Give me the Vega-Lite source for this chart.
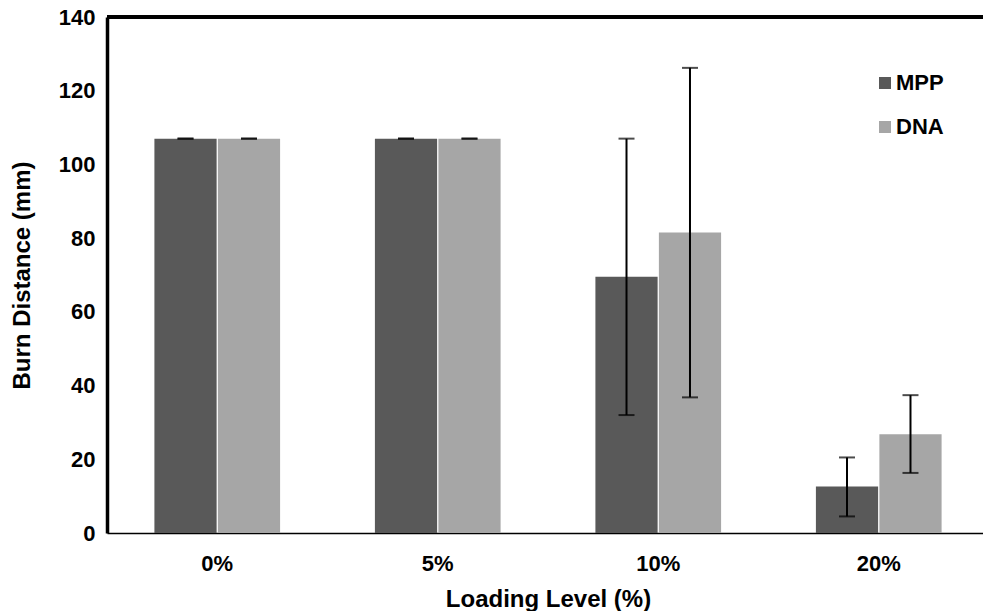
{
  "$schema": "https://vega.github.io/schema/vega-lite/v6.json",
  "width": 876,
  "height": 516,
  "padding": {"left": 10, "top": 6, "right": 0, "bottom": 0},
  "background": "white",
  "config": {
    "view": {"stroke": null},
    "font": "Liberation Sans",
    "axis": {"labelFont": "Liberation Sans", "titleFont": "Liberation Sans", "labelFontWeight": "bold", "titleFontWeight": "bold", "labelColor": "#000", "titleColor": "#000", "grid": false, "ticks": false}
  },
  "data": {
    "values": [
      {"level": "0%", "series": "MPP", "value": 107, "lo": 107, "hi": 107},
      {"level": "0%", "series": "DNA", "value": 107, "lo": 107, "hi": 107},
      {"level": "5%", "series": "MPP", "value": 107, "lo": 107, "hi": 107},
      {"level": "5%", "series": "DNA", "value": 107, "lo": 107, "hi": 107},
      {"level": "10%", "series": "MPP", "value": 69.5, "lo": 32, "hi": 107},
      {"level": "10%", "series": "DNA", "value": 81.5, "lo": 36.8, "hi": 126.2},
      {"level": "20%", "series": "MPP", "value": 12.6, "lo": 4.5, "hi": 20.5},
      {"level": "20%", "series": "DNA", "value": 26.8, "lo": 16.3, "hi": 37.4}
    ]
  },
  "encoding": {
    "x": {
      "field": "level", "type": "nominal", "sort": ["0%", "5%", "10%", "20%"],
      "scale": {"paddingInner": 0.43, "paddingOuter": 0.215, "range": [0, 882]},
      "axis": {"title": "Loading Level (%)", "labelAngle": 0, "labelFontSize": 22, "titleFontSize": 24, "labelPadding": 20, "titlePadding": 13, "domainColor": "#000", "domainWidth": 1.5}
    },
    "xOffset": {"field": "series", "type": "nominal", "sort": ["MPP", "DNA"], "scale": {"paddingInner": 0.02}}
  },
  "layer": [
    {
      "mark": {"type": "bar"},
      "encoding": {
        "y": {"field": "value", "type": "quantitative", "scale": {"domain": [0, 140]},
          "axis": {"title": "Burn Distance (mm)", "values": [0, 20, 40, 60, 80, 100, 120, 140], "labelFontSize": 22, "titleFontSize": 24, "labelPadding": 12, "titlePadding": 24, "domainColor": "#000", "domainWidth": 3.5}},
        "color": {"field": "series", "type": "nominal", "sort": ["MPP", "DNA"],
          "scale": {"domain": ["MPP", "DNA"], "range": ["#595959", "#a6a6a6"]},
          "legend": {"title": null, "orient": "none", "legendX": 767, "legendY": 55, "symbolType": "square", "symbolSize": 144, "symbolStrokeWidth": 0, "labelFontSize": 22, "labelFontWeight": "bold", "labelFont": "Liberation Sans", "labelColor": "#000", "labelOffset": 0, "rowPadding": 22}}
      }
    },
    {
      "mark": {"type": "rule", "color": "#000", "strokeWidth": 2},
      "encoding": {"y": {"field": "lo", "type": "quantitative"}, "y2": {"field": "hi"}}
    },
    {
      "mark": {"type": "tick", "orient": "horizontal", "color": "#000", "size": 16, "thickness": 2},
      "encoding": {"y": {"field": "lo", "type": "quantitative"}}
    },
    {
      "mark": {"type": "tick", "orient": "horizontal", "color": "#000", "size": 16, "thickness": 2},
      "encoding": {"y": {"field": "hi", "type": "quantitative"}}
    },
    {
      "mark": {"type": "rule", "color": "#000", "strokeWidth": 3.5},
      "encoding": {"y": {"datum": 140}, "x": null, "xOffset": null}
    }
  ]
}
